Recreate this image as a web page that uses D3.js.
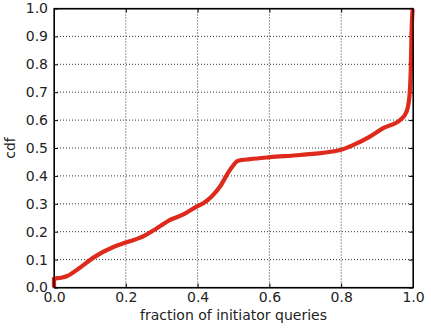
<!DOCTYPE html>
<html>
<head>
<meta charset="utf-8">
<script src="https://cdn.jsdelivr.net/npm/d3@7"></script>
<style>
  body { margin:0; background:#fff; }
  .canvas text { font-family:"DejaVu Sans", sans-serif; fill:#222; }
</style>
</head>
<body>
<div class="canvas" id="canvas" style="width:431px;height:330px"></div>
<script>
// cdf curve
var fracX = [0, 0, 0.02, 0.037, 0.07, 0.111, 0.167, 0.2, 0.251, 0.279, 0.325, 0.362, 0.397, 0.416,
             0.462, 0.49, 0.513, 0.546, 0.602, 0.685, 0.797, 0.834, 0.88, 0.917, 0.964,
             0.982, 0.99, 0.994, 0.996, 0.999, 1.0];
var cdfY  = [0, 0.032, 0.035, 0.041, 0.069, 0.108, 0.146, 0.161, 0.185, 0.206, 0.243, 0.263, 0.29, 0.302,
             0.361, 0.421, 0.454, 0.46, 0.467, 0.475, 0.493, 0.511, 0.541, 0.571, 0.6,
             0.63, 0.684, 0.79, 0.91, 0.995, 1.0];
var xTicks = [0, 0.2, 0.4, 0.6, 0.8, 1.0];
var yTicks = [0, 0.1, 0.2, 0.3, 0.4, 0.5, 0.6, 0.7, 0.8, 0.9, 1.0];

var m = {t:8.5, r:18, b:42.5, l:54};
var outerWidth = 431, outerHeight = 330;
var w = outerWidth - m.l - m.r,
    h = outerHeight - m.t - m.b;

var svg = d3.select('.canvas')
    .append('svg')
    .attr('width',outerWidth)
    .attr('height',outerHeight);
var plot = svg.append('g')
    .attr('transform','translate(' + m.l + ',' + m.t + ')');

var scaleX = d3.scaleLinear().domain([0,1]).range([0,w]);
var scaleY = d3.scaleLinear().domain([0,1]).range([h,0]);

//grid
plot.append('g').selectAll('line')
    .data(xTicks.slice(1,-1))
    .enter().append('line')
    .attr('x1',function(d){return scaleX(d)}).attr('x2',function(d){return scaleX(d)})
    .attr('y1',0).attr('y2',h)
    .style('stroke','#333').style('stroke-dasharray','1,2');
plot.append('g').selectAll('line')
    .data(yTicks.slice(1,-1))
    .enter().append('line')
    .attr('y1',function(d){return scaleY(d)}).attr('y2',function(d){return scaleY(d)})
    .attr('x1',0).attr('x2',w)
    .style('stroke','#333').style('stroke-dasharray','1,2');

//axes, ticks pointing inward on all sides
var fmt = d3.format('.1f');
var axisB = d3.axisBottom(scaleX).tickValues(xTicks).tickFormat(fmt).tickSizeInner(-4).tickSizeOuter(0).tickPadding(5);
var axisL = d3.axisLeft(scaleY).tickValues(yTicks).tickFormat(fmt).tickSizeInner(-4).tickSizeOuter(0).tickPadding(6);
var axisT = d3.axisTop(scaleX).tickValues(xTicks).tickFormat('').tickSizeInner(-4).tickSizeOuter(0);
var axisR = d3.axisRight(scaleY).tickValues(yTicks).tickFormat('').tickSizeInner(-4).tickSizeOuter(0);

plot.append('g').attr('class','axis').attr('transform','translate(0,' + h + ')').call(axisB);
plot.append('g').attr('class','axis').call(axisL);
plot.append('g').attr('class','axis').call(axisT);
plot.append('g').attr('class','axis').attr('transform','translate(' + w + ',0)').call(axisR);

plot.selectAll('.axis text').style('font-size','14px').style('font-family','"DejaVu Sans", sans-serif').attr('fill','#222');
plot.selectAll('.axis line').attr('stroke','#000');
plot.selectAll('.axis path').attr('stroke','#000');

//curve
var pts = fracX.map(function(x,i){ return [x, cdfY[i]]; });
var line = d3.line()
    .x(function(d){return scaleX(d[0])})
    .y(function(d){return scaleY(d[1])})
    .curve(d3.curveMonotoneX);
plot.append('path')
    .datum(pts)
    .attr('d',line)
    .attr('fill','none')
    .attr('stroke','#de2a1c')
    .attr('stroke-width',4.2)
    .attr('stroke-linejoin','round');

//frame on top
plot.append('rect')
    .attr('width',w).attr('height',h)
    .attr('fill','none').attr('stroke','#000').attr('stroke-width',1.2);

//labels
svg.append('text')
    .attr('x', m.l + w/2).attr('y', 320)
    .attr('text-anchor','middle')
    .style('font-size','14px')
    .text('fraction of initiator queries');
svg.append('text')
    .attr('transform','translate(15,' + (m.t + h/2) + ') rotate(-90)')
    .attr('text-anchor','middle')
    .style('font-size','14px')
    .text('cdf');
</script>
</body>
</html>
